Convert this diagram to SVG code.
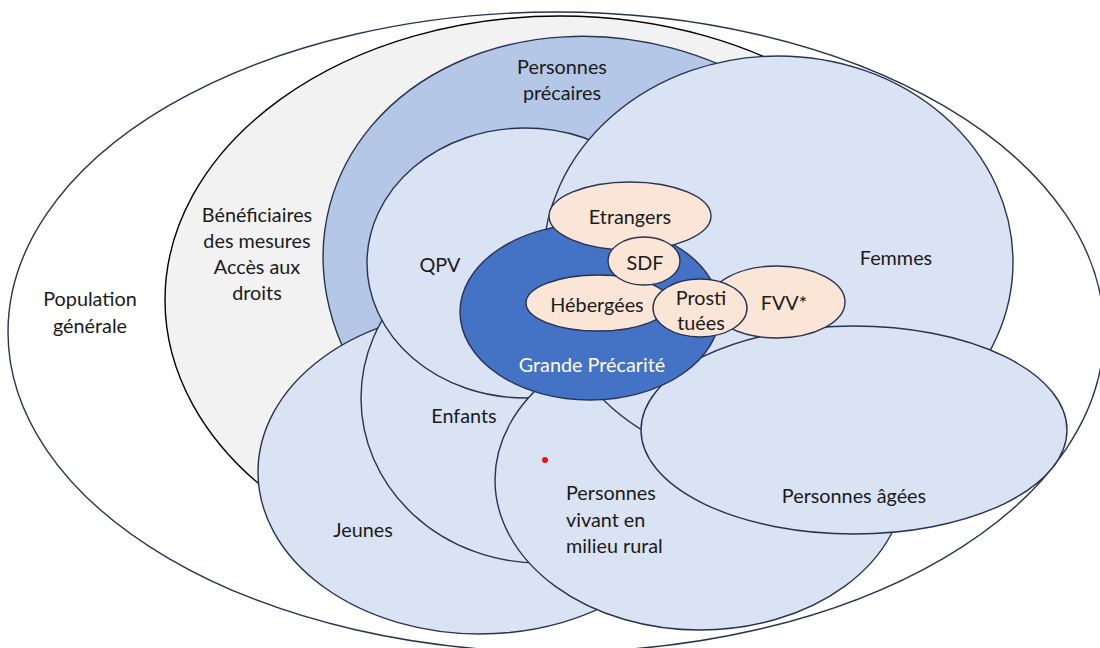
<svg xmlns="http://www.w3.org/2000/svg" width="1100" height="648" viewBox="0 0 1100 648">
<style>
.s{stroke:#27334f;stroke-width:1.4}
.w{fill:#ffffff}
.g{fill:#f2f2f2;stroke:#000;stroke-width:1.4}
.m{fill:#b4c7e7}
.l{fill:#dae3f3}
.d{fill:#4472c4}
.p{fill:#fbe5d6}
text{font-family:Lato,"Liberation Sans",sans-serif;font-size:19.8px;fill:#1a1a1a;text-anchor:middle}
.wt{fill:#ffffff}
.lt{text-anchor:start}
</style>
<rect width="1100" height="648" fill="#ffffff"/>
<g id="population"><ellipse class="s w" cx="556" cy="332" rx="548" ry="320"/><text x="90" y="306">Population</text><text x="90" y="333">générale</text></g>
<g id="beneficiaires"><ellipse class="g" cx="560" cy="300" rx="395" ry="284"/><text x="257" y="222">Bénéficiaires</text><text x="257" y="248">des mesures</text><text x="257" y="274">Accès aux</text><text x="257" y="300">droits</text></g>
<g id="precaires"><ellipse class="s m" cx="0" cy="0" rx="290" ry="240" transform="translate(610 280) rotate(15)"/><text x="562" y="74">Personnes</text><text x="562" y="100">précaires</text></g>
<g id="jeunes"><ellipse class="s l" cx="480" cy="472" rx="222" ry="162"/><text x="363" y="537">Jeunes</text></g>
<g id="enfants"><ellipse class="s l" cx="540" cy="398" rx="179" ry="165"/><text x="464" y="423">Enfants</text></g>
<g id="qpv"><ellipse class="s l" cx="525" cy="263" rx="158" ry="135"/><text x="440" y="272">QPV</text></g>
<g id="rural"><ellipse class="s l" cx="700" cy="480" rx="205" ry="150"/><text class="lt" x="566" y="500">Personnes</text><text class="lt" x="566" y="527">vivant en</text><text class="lt" x="566" y="553">milieu rural</text></g>
<g id="femmes"><ellipse class="s l" cx="778" cy="262" rx="235" ry="206"/><text x="896" y="265">Femmes</text></g>
<g id="agees"><ellipse class="s l" cx="854" cy="430" rx="213" ry="104"/><text x="854" y="503">Personnes âgées</text></g>
<g id="grande-precarite"><ellipse class="s d" cx="590" cy="312" rx="130" ry="88"/><text class="wt" x="592" y="372">Grande Précarité</text></g>
<g id="etrangers"><ellipse class="s p" cx="630" cy="216" rx="81" ry="34"/><text x="630" y="224">Etrangers</text></g>
<g id="hebergees"><ellipse class="s p" cx="598" cy="303" rx="72" ry="28"/><text x="597" y="312">Hébergées</text></g>
<g id="fvv"><ellipse class="s p" cx="777" cy="302" rx="68" ry="36"/><text x="784" y="310">FVV*</text></g>
<g id="sdf"><ellipse class="s p" cx="644" cy="261" rx="36" ry="24"/><text x="645" y="270">SDF</text></g>
<g id="prostituees"><ellipse class="s p" cx="700" cy="308" rx="47" ry="29"/><text x="701" y="305">Prosti</text><text x="701" y="330">tuées</text></g>
<circle cx="545" cy="460" r="3" fill="#e0161b"/>
</svg>
